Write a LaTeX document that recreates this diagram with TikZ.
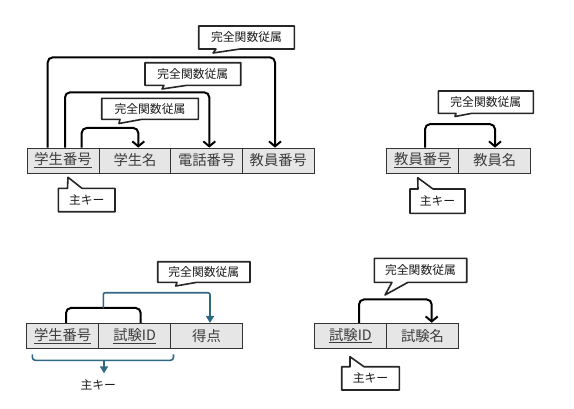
\documentclass[tikz,border=0pt]{standalone}
\usepackage{fontspec}
\setmainfont{Noto Sans CJK JP}
\usetikzlibrary{arrows.meta}
\definecolor{cellfill}{RGB}{231,230,230}
\definecolor{tealc}{RGB}{46,104,130}
\definecolor{txt}{RGB}{60,60,60}
\begin{document}
\begin{tikzpicture}[x=1pt,y=-1pt,
  cell/.style={draw=black!80,line width=0.7pt,fill=cellfill,minimum width=72pt,minimum height=25pt,inner sep=0pt,text=txt,font=\fontsize{14.3}{16}\selectfont},
  cbox/.style={draw=black!85,line width=1.6pt,fill=white,line join=round},
  ctext/.style={font=\fontsize{11.8}{13}\selectfont,inner sep=0pt,text=black!90},
  dep/.style={draw=black,line width=2pt,rounded corners=5pt,-{Straight Barb[length=5pt,width=12pt,line width=2pt]}},
  bracket/.style={draw=black,line width=2pt,rounded corners=5pt},
  tdep/.style={draw=tealc,line width=1.6pt,rounded corners=2pt,-{Triangle[length=7pt,width=8pt]}},
  tbracket/.style={draw=tealc,line width=1.6pt,rounded corners=3pt}]
\useasboundingbox (0,0) rectangle (574,408);

% ---------- Table 1 ----------
\node[cell] (a1) at (63,160.5) {\underline{学生番号}};
\node[cell] (a2) at (135,160.5) {学生名};
\node[cell] (a3) at (206.7,160.5) {電話番号};
\node[cell] (a4) at (278.3,160.5) {教員番号};

\draw[dep] ([xshift=-15.3pt]a1.north) -- ++(0,-90.3) -| ([xshift=-3.3pt]a4.north);
\draw[dep] ([xshift=2pt]a1.north) -- ++(0,-55.3) -| ([xshift=2.6pt]a3.north);
\draw[dep] ([xshift=18.7pt]a1.north) -- ++(0,-19.7) -| ([xshift=3.3pt]a2.north);

\draw[cbox] (198.7,26) -- (294.3,26) -- (294.3,49) -- (240,49) -- (213,53) -- (216,49) -- (198.7,49) -- cycle;
\node[ctext] (c1) at (246.5,37.5) {完全関数従属};
\draw[cbox] (145,62.7) -- (240.7,62.7) -- (240.7,85.3) -- (187,85.3) -- (162,89) -- (164,85.3) -- (145,85.3) -- cycle;
\node[ctext] (c2) at (192.8,74) {完全関数従属};
\draw[cbox] (101.7,98.3) -- (198.3,98.3) -- (198.3,119.3) -- (142,119.3) -- (119,123.5) -- (120,119.3) -- (101.7,119.3) -- cycle;
\node[ctext] (c3) at (150,108.8) {完全関数従属};
\draw[cbox] (58.3,188.3) -- (67.5,188.3) -- (68,177.3) -- (82,188.3) -- (115,188.3) -- (115,211.7) -- (58.3,211.7) -- cycle;
\node[ctext] (k1) at (86.7,200) {主キー};

% ---------- Table 2 ----------
\node[cell] (b1) at (422.8,160.5) {\underline{教員番号}};
\node[cell] (b2) at (494.8,160.5) {教員名};
\draw[dep] ([xshift=2.2pt]b1.north) -- ++(0,-23.5) -| ([xshift=0.2pt]b2.north);

\draw[cbox] (438.3,91) -- (533.3,91) -- (533.3,113.3) -- (472,113.3) -- (455,116.5) -- (456,113.3) -- (438.3,113.3) -- cycle;
\node[ctext] (c4) at (485.8,102.2) {完全関数従属};
\draw[cbox] (410,189) -- (418,189) -- (417.7,177.7) -- (433,189) -- (465,189) -- (465,213.3) -- (410,213.3) -- cycle;
\node[ctext] (k2) at (437.5,201.2) {主キー};

% ---------- Table 3 ----------
\node[cell] (e1) at (62.7,335.8) {\underline{学生番号}};
\node[cell] (e2) at (134.7,335.8) {\underline{試験ID}};
\node[cell] (e3) at (206.5,335.8) {得点};

\draw[bracket] ([xshift=3.3pt]e1.north) -- ++(0,-15) -| ([xshift=6pt]e2.north);
\coordinate (jn) at (103.3,308.3);
\draw[tdep] (jn) -- ++(0,-15.6) -| ([xshift=3.5pt]e3.north);

\draw[cbox] (157.7,261.7) -- (250,261.7) -- (250,282.3) -- (197,282.3) -- (175.7,286) -- (177,282.3) -- (157.7,282.3) -- cycle;
\node[ctext] (c5) at (203.8,272) {完全関数従属};

\draw[tbracket] ([xshift=6pt,yshift=-5.7pt]e1.south west) -- ++(0,6) -| ([xshift=3.3pt,yshift=-5.7pt]e3.south west);
\coordinate (bm) at (104,360);
\node[ctext] (k3) at (98.3,385) {主キー};
\draw[tdep,rounded corners=0pt] (bm) -- ++(0,13.3);

% ---------- Table 4 ----------
\node[cell] (f1) at (350.5,335.6) {\underline{試験ID}};
\node[cell] (f2) at (422.5,335.6) {試験名};
\draw[dep] ([xshift=8.5pt]f1.north) -- ++(0,-23.3) -| ([xshift=9.2pt]f2.north);

\draw[cbox] (374.3,258.3) -- (466.7,258.3) -- (466.7,282.3) -- (408,282.3) -- (385,295) -- (392,282.3) -- (374.3,282.3) -- cycle;
\node[ctext] (c6) at (420.5,270.3) {完全関数従属};
\draw[cbox] (341.7,366.7) -- (350,366.7) -- (350,356.7) -- (364,366.7) -- (399.3,366.7) -- (399.3,390) -- (341.7,390) -- cycle;
\node[ctext] (k4) at (370.5,378.3) {主キー};
\end{tikzpicture}
\end{document}
